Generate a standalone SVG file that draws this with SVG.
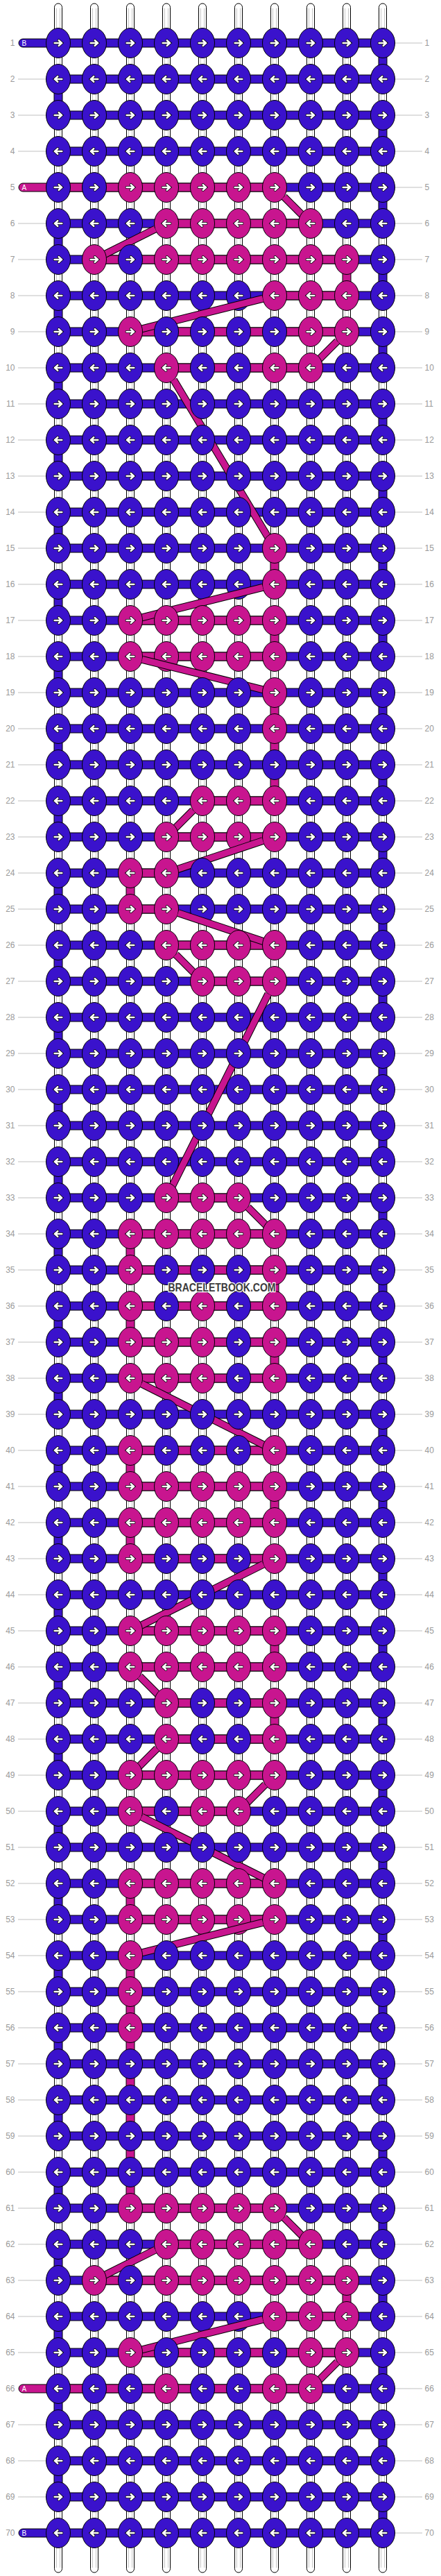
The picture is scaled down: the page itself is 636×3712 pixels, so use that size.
<svg xmlns="http://www.w3.org/2000/svg" xmlns:xlink="http://www.w3.org/1999/xlink" width="636" height="3712" viewBox="0 0 636 3712">
<style>
.str{fill:#fff;stroke:#000;stroke-width:1}
.sl{stroke:#c8c8c8;stroke-width:1;fill:none}
.gl{stroke:#c0c0c0;stroke-width:1;fill:none}
.lb{font-family:"Liberation Sans",Arial,sans-serif;font-size:12px;fill:#9a9a9a}
.le{text-anchor:end}
.bb{fill:#3a12cc;stroke:#000;stroke-width:1}
.pb{fill:#c8158f;stroke:#000;stroke-width:1}
.ao{fill:none;stroke:#000;stroke-width:4.2;stroke-linecap:round}
.ai{fill:none;stroke:#fff;stroke-width:2.6;stroke-linecap:round}
.do{fill:none;stroke:#000;stroke-width:11}
.dp{fill:none;stroke:#c8158f;stroke-width:9}
.tag{font-family:"Liberation Sans",Arial,sans-serif;font-size:10px;fill:#fff}
.wm{font-family:"Liberation Sans",Arial,sans-serif;font-weight:bold;font-size:17px;fill:#3c3c3c;stroke:#fff;stroke-width:2.5;paint-order:stroke;text-anchor:middle}
</style>
<defs>
<g id="ar"><path class="ao" d="M-5.3,0H5M0.8,-3.8L5,0L0.8,3.8"/><path class="ai" d="M-5.3,0H5M0.8,-3.8L5,0L0.8,3.8"/></g>
<g id="BR"><ellipse rx="17.5" ry="21.5" class="bb"/><use href="#ar"/></g>
<g id="BL"><ellipse rx="17.5" ry="21.5" class="bb"/><use href="#ar" transform="scale(-1,1)"/></g>
<g id="AR"><ellipse rx="17.5" ry="21.5" class="pb"/><use href="#ar"/></g>
<g id="AL"><ellipse rx="17.5" ry="21.5" class="pb"/><use href="#ar" transform="scale(-1,1)"/></g>
</defs>
<rect width="636" height="3712" fill="#fff"/>
<g id="strings">
<rect class="str" x="78.5" y="5" width="11" height="3702" rx="5.5"/>
<rect class="str" x="130.5" y="5" width="11" height="3702" rx="5.5"/>
<rect class="str" x="182.5" y="5" width="11" height="3702" rx="5.5"/>
<rect class="str" x="234.5" y="5" width="11" height="3702" rx="5.5"/>
<rect class="str" x="286.5" y="5" width="11" height="3702" rx="5.5"/>
<rect class="str" x="338.5" y="5" width="11" height="3702" rx="5.5"/>
<rect class="str" x="390.5" y="5" width="11" height="3702" rx="5.5"/>
<rect class="str" x="442.5" y="5" width="11" height="3702" rx="5.5"/>
<rect class="str" x="494.5" y="5" width="11" height="3702" rx="5.5"/>
<rect class="str" x="546.5" y="5" width="11" height="3702" rx="5.5"/>
<path class="sl" d="M81.5,12V3700M86.5,12V3700M133.5,12V3700M138.5,12V3700M185.5,12V3700M190.5,12V3700M237.5,12V3700M242.5,12V3700M289.5,12V3700M294.5,12V3700M341.5,12V3700M346.5,12V3700M393.5,12V3700M398.5,12V3700M445.5,12V3700M450.5,12V3700M497.5,12V3700M502.5,12V3700M549.5,12V3700M554.5,12V3700"/>
</g>
<g id="guides">
<path class="gl" d="M26,114H67M26,166H67M26,218H67M26,322H67M26,374H67M26,426H67M26,478H67M26,530H67M26,582H67M26,634H67M26,686H67M26,738H67M26,790H67M26,842H67M26,894H67M26,946H67M26,998H67M26,1050H67M26,1102H67M26,1154H67M26,1206H67M26,1258H67M26,1310H67M26,1362H67M26,1414H67M26,1466H67M26,1518H67M26,1570H67M26,1622H67M26,1674H67M26,1726H67M26,1778H67M26,1830H67M26,1882H67M26,1934H67M26,1986H67M26,2038H67M26,2090H67M26,2142H67M26,2194H67M26,2246H67M26,2298H67M26,2350H67M26,2402H67M26,2454H67M26,2506H67M26,2558H67M26,2610H67M26,2662H67M26,2714H67M26,2766H67M26,2818H67M26,2870H67M26,2922H67M26,2974H67M26,3026H67M26,3078H67M26,3130H67M26,3182H67M26,3234H67M26,3286H67M26,3338H67M26,3390H67M26,3494H67M26,3546H67M26,3598H67"/>
<path class="gl" d="M569,62H609M569,114H609M569,166H609M569,218H609M569,270H609M569,322H609M569,374H609M569,426H609M569,478H609M569,530H609M569,582H609M569,634H609M569,686H609M569,738H609M569,790H609M569,842H609M569,894H609M569,946H609M569,998H609M569,1050H609M569,1102H609M569,1154H609M569,1206H609M569,1258H609M569,1310H609M569,1362H609M569,1414H609M569,1466H609M569,1518H609M569,1570H609M569,1622H609M569,1674H609M569,1726H609M569,1778H609M569,1830H609M569,1882H609M569,1934H609M569,1986H609M569,2038H609M569,2090H609M569,2142H609M569,2194H609M569,2246H609M569,2298H609M569,2350H609M569,2402H609M569,2454H609M569,2506H609M569,2558H609M569,2610H609M569,2662H609M569,2714H609M569,2766H609M569,2818H609M569,2870H609M569,2922H609M569,2974H609M569,3026H609M569,3078H609M569,3130H609M569,3182H609M569,3234H609M569,3286H609M569,3338H609M569,3390H609M569,3442H609M569,3494H609M569,3546H609M569,3598H609M569,3650H609"/>
<g class="lb le">
<text x="21.5" y="66">1</text><text x="21.5" y="118">2</text><text x="21.5" y="170">3</text><text x="21.5" y="222">4</text><text x="21.5" y="274">5</text><text x="21.5" y="326">6</text><text x="21.5" y="378">7</text><text x="21.5" y="430">8</text><text x="21.5" y="482">9</text><text x="21.5" y="534">10</text>
<text x="21.5" y="586">11</text><text x="21.5" y="638">12</text><text x="21.5" y="690">13</text><text x="21.5" y="742">14</text><text x="21.5" y="794">15</text><text x="21.5" y="846">16</text><text x="21.5" y="898">17</text><text x="21.5" y="950">18</text><text x="21.5" y="1002">19</text><text x="21.5" y="1054">20</text>
<text x="21.5" y="1106">21</text><text x="21.5" y="1158">22</text><text x="21.5" y="1210">23</text><text x="21.5" y="1262">24</text><text x="21.5" y="1314">25</text><text x="21.5" y="1366">26</text><text x="21.5" y="1418">27</text><text x="21.5" y="1470">28</text><text x="21.5" y="1522">29</text><text x="21.5" y="1574">30</text>
<text x="21.5" y="1626">31</text><text x="21.5" y="1678">32</text><text x="21.5" y="1730">33</text><text x="21.5" y="1782">34</text><text x="21.5" y="1834">35</text><text x="21.5" y="1886">36</text><text x="21.5" y="1938">37</text><text x="21.5" y="1990">38</text><text x="21.5" y="2042">39</text><text x="21.5" y="2094">40</text>
<text x="21.5" y="2146">41</text><text x="21.5" y="2198">42</text><text x="21.5" y="2250">43</text><text x="21.5" y="2302">44</text><text x="21.5" y="2354">45</text><text x="21.5" y="2406">46</text><text x="21.5" y="2458">47</text><text x="21.5" y="2510">48</text><text x="21.5" y="2562">49</text><text x="21.5" y="2614">50</text>
<text x="21.5" y="2666">51</text><text x="21.5" y="2718">52</text><text x="21.5" y="2770">53</text><text x="21.5" y="2822">54</text><text x="21.5" y="2874">55</text><text x="21.5" y="2926">56</text><text x="21.5" y="2978">57</text><text x="21.5" y="3030">58</text><text x="21.5" y="3082">59</text><text x="21.5" y="3134">60</text>
<text x="21.5" y="3186">61</text><text x="21.5" y="3238">62</text><text x="21.5" y="3290">63</text><text x="21.5" y="3342">64</text><text x="21.5" y="3394">65</text><text x="21.5" y="3446">66</text><text x="21.5" y="3498">67</text><text x="21.5" y="3550">68</text><text x="21.5" y="3602">69</text><text x="21.5" y="3654">70</text>
</g>
<g class="lb">
<text x="612.5" y="66">1</text><text x="612.5" y="118">2</text><text x="612.5" y="170">3</text><text x="612.5" y="222">4</text><text x="612.5" y="274">5</text><text x="612.5" y="326">6</text><text x="612.5" y="378">7</text><text x="612.5" y="430">8</text><text x="612.5" y="482">9</text><text x="612.5" y="534">10</text>
<text x="612.5" y="586">11</text><text x="612.5" y="638">12</text><text x="612.5" y="690">13</text><text x="612.5" y="742">14</text><text x="612.5" y="794">15</text><text x="612.5" y="846">16</text><text x="612.5" y="898">17</text><text x="612.5" y="950">18</text><text x="612.5" y="1002">19</text><text x="612.5" y="1054">20</text>
<text x="612.5" y="1106">21</text><text x="612.5" y="1158">22</text><text x="612.5" y="1210">23</text><text x="612.5" y="1262">24</text><text x="612.5" y="1314">25</text><text x="612.5" y="1366">26</text><text x="612.5" y="1418">27</text><text x="612.5" y="1470">28</text><text x="612.5" y="1522">29</text><text x="612.5" y="1574">30</text>
<text x="612.5" y="1626">31</text><text x="612.5" y="1678">32</text><text x="612.5" y="1730">33</text><text x="612.5" y="1782">34</text><text x="612.5" y="1834">35</text><text x="612.5" y="1886">36</text><text x="612.5" y="1938">37</text><text x="612.5" y="1990">38</text><text x="612.5" y="2042">39</text><text x="612.5" y="2094">40</text>
<text x="612.5" y="2146">41</text><text x="612.5" y="2198">42</text><text x="612.5" y="2250">43</text><text x="612.5" y="2302">44</text><text x="612.5" y="2354">45</text><text x="612.5" y="2406">46</text><text x="612.5" y="2458">47</text><text x="612.5" y="2510">48</text><text x="612.5" y="2562">49</text><text x="612.5" y="2614">50</text>
<text x="612.5" y="2666">51</text><text x="612.5" y="2718">52</text><text x="612.5" y="2770">53</text><text x="612.5" y="2822">54</text><text x="612.5" y="2874">55</text><text x="612.5" y="2926">56</text><text x="612.5" y="2978">57</text><text x="612.5" y="3030">58</text><text x="612.5" y="3082">59</text><text x="612.5" y="3134">60</text>
<text x="612.5" y="3186">61</text><text x="612.5" y="3238">62</text><text x="612.5" y="3290">63</text><text x="612.5" y="3342">64</text><text x="612.5" y="3394">65</text><text x="612.5" y="3446">66</text><text x="612.5" y="3498">67</text><text x="612.5" y="3550">68</text><text x="612.5" y="3602">69</text><text x="612.5" y="3654">70</text>
</g>
</g>
<g id="connectors">
<path class="bb" d="M546,62h12v52h-12zM546,166h12v52h-12zM546,270h12v52h-12zM546,374h12v52h-12zM546,478h12v52h-12zM546,582h12v52h-12zM546,686h12v52h-12zM546,790h12v52h-12zM546,894h12v52h-12zM546,998h12v52h-12zM546,1102h12v52h-12zM546,1206h12v52h-12zM546,1310h12v52h-12zM546,1414h12v52h-12zM546,1518h12v52h-12zM546,1622h12v52h-12zM546,1726h12v52h-12zM546,1830h12v52h-12zM546,1934h12v52h-12zM546,2038h12v52h-12zM546,2142h12v52h-12zM546,2246h12v52h-12zM546,2350h12v52h-12zM546,2454h12v52h-12zM546,2558h12v52h-12zM546,2662h12v52h-12zM546,2766h12v52h-12zM546,2870h12v52h-12zM546,2974h12v52h-12zM546,3078h12v52h-12zM546,3182h12v52h-12zM546,3286h12v52h-12zM546,3390h12v52h-12zM546,3494h12v52h-12zM546,3598h12v52h-12z"/>
<path class="bb" d="M78,114h12v52h-12zM78,322h12v52h-12zM78,426h12v52h-12zM78,530h12v52h-12zM78,634h12v52h-12zM78,738h12v52h-12zM78,842h12v52h-12zM78,946h12v52h-12zM78,1050h12v52h-12zM78,1154h12v52h-12zM78,1258h12v52h-12zM78,1362h12v52h-12zM78,1466h12v52h-12zM78,1570h12v52h-12zM78,1674h12v52h-12zM78,1778h12v52h-12zM78,1882h12v52h-12zM78,1986h12v52h-12zM78,2090h12v52h-12zM78,2194h12v52h-12zM78,2298h12v52h-12zM78,2402h12v52h-12zM78,2506h12v52h-12zM78,2610h12v52h-12zM78,2714h12v52h-12zM78,2818h12v52h-12zM78,2922h12v52h-12zM78,3026h12v52h-12zM78,3130h12v52h-12zM78,3234h12v52h-12zM78,3338h12v52h-12zM78,3442h12v52h-12zM78,3546h12v52h-12z"/>
<path class="pb" d="M494,374h12v52h-12zM390,790h12v52h-12zM390,894h12v52h-12zM390,998h12v52h-12zM390,1050h12v52h-12zM390,1102h12v52h-12zM182,1258h12v52h-12zM182,1778h12v52h-12zM390,1830h12v52h-12zM182,1882h12v52h-12zM390,1934h12v52h-12zM182,2090h12v52h-12zM390,2142h12v52h-12zM182,2194h12v52h-12zM390,2350h12v52h-12zM390,2454h12v52h-12zM182,2714h12v52h-12zM182,2818h12v52h-12zM182,2870h12v52h-12zM182,2922h12v52h-12zM182,2974h12v52h-12zM182,3026h12v52h-12zM182,3078h12v52h-12zM182,3130h12v52h-12zM494,3286h12v52h-12z"/>
<path class="bb" d="M84,56h468v12h-468zM84,108h468v12h-468zM84,160h468v12h-468zM84,212h468v12h-468zM84,264h468v12h-468zM84,316h468v12h-468zM84,368h468v12h-468zM84,420h468v12h-468zM84,472h468v12h-468zM84,524h468v12h-468zM84,576h468v12h-468zM84,628h468v12h-468zM84,680h468v12h-468zM84,732h468v12h-468zM84,784h468v12h-468zM84,836h468v12h-468zM84,888h468v12h-468zM84,940h468v12h-468zM84,992h468v12h-468zM84,1044h468v12h-468zM84,1096h468v12h-468zM84,1148h468v12h-468zM84,1200h468v12h-468zM84,1252h468v12h-468zM84,1304h468v12h-468zM84,1356h468v12h-468zM84,1408h468v12h-468zM84,1460h468v12h-468zM84,1512h468v12h-468zM84,1564h468v12h-468zM84,1616h468v12h-468zM84,1668h468v12h-468zM84,1720h468v12h-468zM84,1772h468v12h-468zM84,1824h468v12h-468zM84,1876h468v12h-468zM84,1928h468v12h-468zM84,1980h468v12h-468zM84,2032h468v12h-468zM84,2084h468v12h-468zM84,2136h468v12h-468zM84,2188h468v12h-468zM84,2240h468v12h-468zM84,2292h468v12h-468zM84,2344h468v12h-468zM84,2396h468v12h-468zM84,2448h468v12h-468zM84,2500h468v12h-468zM84,2552h468v12h-468zM84,2604h468v12h-468zM84,2656h468v12h-468zM84,2708h468v12h-468zM84,2760h468v12h-468zM84,2812h468v12h-468zM84,2864h468v12h-468zM84,2916h468v12h-468zM84,2968h468v12h-468zM84,3020h468v12h-468zM84,3072h468v12h-468zM84,3124h468v12h-468zM84,3176h468v12h-468zM84,3228h468v12h-468zM84,3280h468v12h-468zM84,3332h468v12h-468zM84,3384h468v12h-468zM84,3436h468v12h-468zM84,3488h468v12h-468zM84,3540h468v12h-468zM84,3592h468v12h-468zM84,3644h468v12h-468z"/>
<path class="pb" d="M84,264h312v12h-312zM240,316h208v12h-208zM136,368h364v12h-364zM396,420h104v12h-104zM188,472h312v12h-312zM240,524h208v12h-208zM188,888h208v12h-208zM188,940h208v12h-208zM292,1148h104v12h-104zM240,1200h156v12h-156zM188,1252h52v12h-52zM188,1304h52v12h-52zM240,1356h156v12h-156zM292,1408h104v12h-104zM240,1720h104v12h-104zM188,1772h208v12h-208zM188,1824h208v12h-208zM188,1876h208v12h-208zM188,1928h208v12h-208zM188,1980h208v12h-208zM188,2084h208v12h-208zM188,2136h208v12h-208zM188,2188h208v12h-208zM188,2240h208v12h-208zM188,2344h208v12h-208zM188,2396h208v12h-208zM240,2448h156v12h-156zM240,2500h156v12h-156zM188,2552h208v12h-208zM188,2604h156v12h-156zM188,2708h208v12h-208zM188,2760h208v12h-208zM188,3176h208v12h-208zM240,3228h208v12h-208zM136,3280h364v12h-364zM396,3332h104v12h-104zM188,3384h312v12h-312zM84,3436h364v12h-364z"/>
<rect class="bb" x="27" y="56" width="64" height="12" rx="6"/>
<rect class="pb" x="27" y="264" width="64" height="12" rx="6"/>
<rect class="pb" x="27" y="3436" width="64" height="12" rx="6"/>
<rect class="bb" x="27" y="3644" width="64" height="12" rx="6"/>
<text class="tag" x="31.5" y="65.7">B</text>
<text class="tag" x="31.5" y="273.7">A</text>
<text class="tag" x="31.5" y="3445.7">A</text>
<text class="tag" x="31.5" y="3653.7">B</text>
</g>
<g id="r1" transform="translate(0,62)"><use href="#BR" x="84"/><use href="#BR" x="136"/><use href="#BR" x="188"/><use href="#BR" x="240"/><use href="#BR" x="292"/><use href="#BR" x="344"/><use href="#BR" x="396"/><use href="#BR" x="448"/><use href="#BR" x="500"/><use href="#BR" x="552"/></g>
<g id="r2" transform="translate(0,114)"><use href="#BL" x="84"/><use href="#BL" x="136"/><use href="#BL" x="188"/><use href="#BL" x="240"/><use href="#BL" x="292"/><use href="#BL" x="344"/><use href="#BL" x="396"/><use href="#BL" x="448"/><use href="#BL" x="500"/><use href="#BL" x="552"/></g>
<g id="r3" transform="translate(0,166)"><use href="#BR" x="84"/><use href="#BR" x="136"/><use href="#BR" x="188"/><use href="#BR" x="240"/><use href="#BR" x="292"/><use href="#BR" x="344"/><use href="#BR" x="396"/><use href="#BR" x="448"/><use href="#BR" x="500"/><use href="#BR" x="552"/></g>
<g id="r4" transform="translate(0,218)"><use href="#BL" x="84"/><use href="#BL" x="136"/><use href="#BL" x="188"/><use href="#BL" x="240"/><use href="#BL" x="292"/><use href="#BL" x="344"/><use href="#BL" x="396"/><use href="#BL" x="448"/><use href="#BL" x="500"/><use href="#BL" x="552"/></g>
<g id="r5" transform="translate(0,270)"><use href="#BR" x="84"/><use href="#BR" x="136"/><use href="#AR" x="188"/><use href="#AR" x="240"/><use href="#AR" x="292"/><use href="#AR" x="344"/><use href="#AR" x="396"/><use href="#BR" x="448"/><use href="#BR" x="500"/><use href="#BR" x="552"/></g>
<g class="diag"><path class="do" d="M409.6,283.6L448,322"/><path class="dp" d="M409.6,283.6L448,322"/></g>
<g id="r6" transform="translate(0,322)"><use href="#BL" x="84"/><use href="#BL" x="136"/><use href="#BL" x="188"/><use href="#AL" x="240"/><use href="#AL" x="292"/><use href="#AL" x="344"/><use href="#AL" x="396"/><use href="#AL" x="448"/><use href="#BL" x="500"/><use href="#BL" x="552"/></g>
<g class="diag"><path class="do" d="M223.8,330.1L136,374"/><path class="dp" d="M223.8,330.1L136,374"/></g>
<g id="r7" transform="translate(0,374)"><use href="#BR" x="84"/><use href="#AR" x="136"/><use href="#BR" x="188"/><use href="#AR" x="240"/><use href="#AR" x="292"/><use href="#AR" x="344"/><use href="#AR" x="396"/><use href="#AR" x="448"/><use href="#AR" x="500"/><use href="#BR" x="552"/></g>
<g id="r8" transform="translate(0,426)"><use href="#BL" x="84"/><use href="#BL" x="136"/><use href="#BL" x="188"/><use href="#BL" x="240"/><use href="#BL" x="292"/><use href="#BL" x="344"/><use href="#AL" x="396"/><use href="#AL" x="448"/><use href="#AL" x="500"/><use href="#BL" x="552"/></g>
<g class="diag"><path class="do" d="M378.9,430.3L188,478"/><path class="dp" d="M378.9,430.3L188,478"/></g>
<g id="r9" transform="translate(0,478)"><use href="#BR" x="84"/><use href="#BR" x="136"/><use href="#AR" x="188"/><use href="#BR" x="240"/><use href="#BR" x="292"/><use href="#BR" x="344"/><use href="#BR" x="396"/><use href="#AR" x="448"/><use href="#AR" x="500"/><use href="#BR" x="552"/></g>
<g class="diag"><path class="do" d="M486.4,491.6L448,530"/><path class="dp" d="M486.4,491.6L448,530"/></g>
<g id="r10" transform="translate(0,530)"><use href="#BL" x="84"/><use href="#BL" x="136"/><use href="#BL" x="188"/><use href="#AL" x="240"/><use href="#BL" x="292"/><use href="#BL" x="344"/><use href="#AL" x="396"/><use href="#AL" x="448"/><use href="#BL" x="500"/><use href="#BL" x="552"/></g>
<g class="diag"><path class="do" d="M250.4,547.3L396,790"/><path class="dp" d="M250.4,547.3L396,790"/></g>
<g id="r11" transform="translate(0,582)"><use href="#BR" x="84"/><use href="#BR" x="136"/><use href="#BR" x="188"/><use href="#BR" x="240"/><use href="#BR" x="292"/><use href="#BR" x="344"/><use href="#BR" x="396"/><use href="#BR" x="448"/><use href="#BR" x="500"/><use href="#BR" x="552"/></g>
<g id="r12" transform="translate(0,634)"><use href="#BL" x="84"/><use href="#BL" x="136"/><use href="#BL" x="188"/><use href="#BL" x="240"/><use href="#BL" x="292"/><use href="#BL" x="344"/><use href="#BL" x="396"/><use href="#BL" x="448"/><use href="#BL" x="500"/><use href="#BL" x="552"/></g>
<g id="r13" transform="translate(0,686)"><use href="#BR" x="84"/><use href="#BR" x="136"/><use href="#BR" x="188"/><use href="#BR" x="240"/><use href="#BR" x="292"/><use href="#BR" x="344"/><use href="#BR" x="396"/><use href="#BR" x="448"/><use href="#BR" x="500"/><use href="#BR" x="552"/></g>
<g id="r14" transform="translate(0,738)"><use href="#BL" x="84"/><use href="#BL" x="136"/><use href="#BL" x="188"/><use href="#BL" x="240"/><use href="#BL" x="292"/><use href="#BL" x="344"/><use href="#BL" x="396"/><use href="#BL" x="448"/><use href="#BL" x="500"/><use href="#BL" x="552"/></g>
<g id="r15" transform="translate(0,790)"><use href="#BR" x="84"/><use href="#BR" x="136"/><use href="#BR" x="188"/><use href="#BR" x="240"/><use href="#BR" x="292"/><use href="#BR" x="344"/><use href="#AR" x="396"/><use href="#BR" x="448"/><use href="#BR" x="500"/><use href="#BR" x="552"/></g>
<g id="r16" transform="translate(0,842)"><use href="#BL" x="84"/><use href="#BL" x="136"/><use href="#BL" x="188"/><use href="#BL" x="240"/><use href="#BL" x="292"/><use href="#BL" x="344"/><use href="#AL" x="396"/><use href="#BL" x="448"/><use href="#BL" x="500"/><use href="#BL" x="552"/></g>
<g class="diag"><path class="do" d="M378.9,846.3L188,894"/><path class="dp" d="M378.9,846.3L188,894"/></g>
<g id="r17" transform="translate(0,894)"><use href="#BR" x="84"/><use href="#BR" x="136"/><use href="#AR" x="188"/><use href="#AR" x="240"/><use href="#AR" x="292"/><use href="#AR" x="344"/><use href="#AR" x="396"/><use href="#BR" x="448"/><use href="#BR" x="500"/><use href="#BR" x="552"/></g>
<g id="r18" transform="translate(0,946)"><use href="#BL" x="84"/><use href="#BL" x="136"/><use href="#AL" x="188"/><use href="#AL" x="240"/><use href="#AL" x="292"/><use href="#AL" x="344"/><use href="#AL" x="396"/><use href="#BL" x="448"/><use href="#BL" x="500"/><use href="#BL" x="552"/></g>
<g class="diag"><path class="do" d="M205.1,950.3L396,998"/><path class="dp" d="M205.1,950.3L396,998"/></g>
<g id="r19" transform="translate(0,998)"><use href="#BR" x="84"/><use href="#BR" x="136"/><use href="#BR" x="188"/><use href="#BR" x="240"/><use href="#BR" x="292"/><use href="#BR" x="344"/><use href="#AR" x="396"/><use href="#BR" x="448"/><use href="#BR" x="500"/><use href="#BR" x="552"/></g>
<g id="r20" transform="translate(0,1050)"><use href="#BL" x="84"/><use href="#BL" x="136"/><use href="#BL" x="188"/><use href="#BL" x="240"/><use href="#BL" x="292"/><use href="#BL" x="344"/><use href="#AL" x="396"/><use href="#BL" x="448"/><use href="#BL" x="500"/><use href="#BL" x="552"/></g>
<g id="r21" transform="translate(0,1102)"><use href="#BR" x="84"/><use href="#BR" x="136"/><use href="#BR" x="188"/><use href="#BR" x="240"/><use href="#BR" x="292"/><use href="#BR" x="344"/><use href="#BR" x="396"/><use href="#BR" x="448"/><use href="#BR" x="500"/><use href="#BR" x="552"/></g>
<g id="r22" transform="translate(0,1154)"><use href="#BL" x="84"/><use href="#BL" x="136"/><use href="#BL" x="188"/><use href="#BL" x="240"/><use href="#AL" x="292"/><use href="#AL" x="344"/><use href="#AL" x="396"/><use href="#BL" x="448"/><use href="#BL" x="500"/><use href="#BL" x="552"/></g>
<g class="diag"><path class="do" d="M278.4,1167.6L240,1206"/><path class="dp" d="M278.4,1167.6L240,1206"/></g>
<g id="r23" transform="translate(0,1206)"><use href="#BR" x="84"/><use href="#BR" x="136"/><use href="#BR" x="188"/><use href="#AR" x="240"/><use href="#AR" x="292"/><use href="#AR" x="344"/><use href="#AR" x="396"/><use href="#BR" x="448"/><use href="#BR" x="500"/><use href="#BR" x="552"/></g>
<g class="diag"><path class="do" d="M379.1,1211.6L240,1258"/><path class="dp" d="M379.1,1211.6L240,1258"/></g>
<g id="r24" transform="translate(0,1258)"><use href="#BL" x="84"/><use href="#BL" x="136"/><use href="#AL" x="188"/><use href="#AL" x="240"/><use href="#BL" x="292"/><use href="#BL" x="344"/><use href="#BL" x="396"/><use href="#BL" x="448"/><use href="#BL" x="500"/><use href="#BL" x="552"/></g>
<g id="r25" transform="translate(0,1310)"><use href="#BR" x="84"/><use href="#BR" x="136"/><use href="#AR" x="188"/><use href="#AR" x="240"/><use href="#BR" x="292"/><use href="#BR" x="344"/><use href="#BR" x="396"/><use href="#BR" x="448"/><use href="#BR" x="500"/><use href="#BR" x="552"/></g>
<g class="diag"><path class="do" d="M256.9,1315.6L396,1362"/><path class="dp" d="M256.9,1315.6L396,1362"/></g>
<g id="r26" transform="translate(0,1362)"><use href="#BL" x="84"/><use href="#BL" x="136"/><use href="#BL" x="188"/><use href="#AL" x="240"/><use href="#AL" x="292"/><use href="#AL" x="344"/><use href="#AL" x="396"/><use href="#BL" x="448"/><use href="#BL" x="500"/><use href="#BL" x="552"/></g>
<g class="diag"><path class="do" d="M253.6,1375.6L292,1414"/><path class="dp" d="M253.6,1375.6L292,1414"/></g>
<g id="r27" transform="translate(0,1414)"><use href="#BR" x="84"/><use href="#BR" x="136"/><use href="#BR" x="188"/><use href="#BR" x="240"/><use href="#AR" x="292"/><use href="#AR" x="344"/><use href="#AR" x="396"/><use href="#BR" x="448"/><use href="#BR" x="500"/><use href="#BR" x="552"/></g>
<g class="diag"><path class="do" d="M386.8,1432.3L240,1726"/><path class="dp" d="M386.8,1432.3L240,1726"/></g>
<g id="r28" transform="translate(0,1466)"><use href="#BL" x="84"/><use href="#BL" x="136"/><use href="#BL" x="188"/><use href="#BL" x="240"/><use href="#BL" x="292"/><use href="#BL" x="344"/><use href="#BL" x="396"/><use href="#BL" x="448"/><use href="#BL" x="500"/><use href="#BL" x="552"/></g>
<g id="r29" transform="translate(0,1518)"><use href="#BR" x="84"/><use href="#BR" x="136"/><use href="#BR" x="188"/><use href="#BR" x="240"/><use href="#BR" x="292"/><use href="#BR" x="344"/><use href="#BR" x="396"/><use href="#BR" x="448"/><use href="#BR" x="500"/><use href="#BR" x="552"/></g>
<g id="r30" transform="translate(0,1570)"><use href="#BL" x="84"/><use href="#BL" x="136"/><use href="#BL" x="188"/><use href="#BL" x="240"/><use href="#BL" x="292"/><use href="#BL" x="344"/><use href="#BL" x="396"/><use href="#BL" x="448"/><use href="#BL" x="500"/><use href="#BL" x="552"/></g>
<g id="r31" transform="translate(0,1622)"><use href="#BR" x="84"/><use href="#BR" x="136"/><use href="#BR" x="188"/><use href="#BR" x="240"/><use href="#BR" x="292"/><use href="#BR" x="344"/><use href="#BR" x="396"/><use href="#BR" x="448"/><use href="#BR" x="500"/><use href="#BR" x="552"/></g>
<g id="r32" transform="translate(0,1674)"><use href="#BL" x="84"/><use href="#BL" x="136"/><use href="#BL" x="188"/><use href="#BL" x="240"/><use href="#BL" x="292"/><use href="#BL" x="344"/><use href="#BL" x="396"/><use href="#BL" x="448"/><use href="#BL" x="500"/><use href="#BL" x="552"/></g>
<g id="r33" transform="translate(0,1726)"><use href="#BR" x="84"/><use href="#BR" x="136"/><use href="#BR" x="188"/><use href="#AR" x="240"/><use href="#AR" x="292"/><use href="#AR" x="344"/><use href="#BR" x="396"/><use href="#BR" x="448"/><use href="#BR" x="500"/><use href="#BR" x="552"/></g>
<g class="diag"><path class="do" d="M357.6,1739.6L396,1778"/><path class="dp" d="M357.6,1739.6L396,1778"/></g>
<g id="r34" transform="translate(0,1778)"><use href="#BL" x="84"/><use href="#BL" x="136"/><use href="#AL" x="188"/><use href="#AL" x="240"/><use href="#AL" x="292"/><use href="#AL" x="344"/><use href="#AL" x="396"/><use href="#BL" x="448"/><use href="#BL" x="500"/><use href="#BL" x="552"/></g>
<g id="r35" transform="translate(0,1830)"><use href="#BR" x="84"/><use href="#BR" x="136"/><use href="#AR" x="188"/><use href="#BR" x="240"/><use href="#BR" x="292"/><use href="#BR" x="344"/><use href="#AR" x="396"/><use href="#BR" x="448"/><use href="#BR" x="500"/><use href="#BR" x="552"/></g>
<g id="r36" transform="translate(0,1882)"><use href="#BL" x="84"/><use href="#BL" x="136"/><use href="#AL" x="188"/><use href="#BL" x="240"/><use href="#AL" x="292"/><use href="#BL" x="344"/><use href="#AL" x="396"/><use href="#BL" x="448"/><use href="#BL" x="500"/><use href="#BL" x="552"/></g>
<g id="r37" transform="translate(0,1934)"><use href="#BR" x="84"/><use href="#BR" x="136"/><use href="#AR" x="188"/><use href="#AR" x="240"/><use href="#AR" x="292"/><use href="#BR" x="344"/><use href="#AR" x="396"/><use href="#BR" x="448"/><use href="#BR" x="500"/><use href="#BR" x="552"/></g>
<g id="r38" transform="translate(0,1986)"><use href="#BL" x="84"/><use href="#BL" x="136"/><use href="#AL" x="188"/><use href="#AL" x="240"/><use href="#AL" x="292"/><use href="#BL" x="344"/><use href="#AL" x="396"/><use href="#BL" x="448"/><use href="#BL" x="500"/><use href="#BL" x="552"/></g>
<g class="diag"><path class="do" d="M204.2,1994.1L396,2090"/><path class="dp" d="M204.2,1994.1L396,2090"/></g>
<g id="r39" transform="translate(0,2038)"><use href="#BR" x="84"/><use href="#BR" x="136"/><use href="#BR" x="188"/><use href="#BR" x="240"/><use href="#BR" x="292"/><use href="#BR" x="344"/><use href="#BR" x="396"/><use href="#BR" x="448"/><use href="#BR" x="500"/><use href="#BR" x="552"/></g>
<g id="r40" transform="translate(0,2090)"><use href="#BL" x="84"/><use href="#BL" x="136"/><use href="#AL" x="188"/><use href="#BL" x="240"/><use href="#BL" x="292"/><use href="#BL" x="344"/><use href="#AL" x="396"/><use href="#BL" x="448"/><use href="#BL" x="500"/><use href="#BL" x="552"/></g>
<g id="r41" transform="translate(0,2142)"><use href="#BR" x="84"/><use href="#BR" x="136"/><use href="#AR" x="188"/><use href="#AR" x="240"/><use href="#AR" x="292"/><use href="#AR" x="344"/><use href="#AR" x="396"/><use href="#BR" x="448"/><use href="#BR" x="500"/><use href="#BR" x="552"/></g>
<g id="r42" transform="translate(0,2194)"><use href="#BL" x="84"/><use href="#BL" x="136"/><use href="#AL" x="188"/><use href="#AL" x="240"/><use href="#AL" x="292"/><use href="#AL" x="344"/><use href="#AL" x="396"/><use href="#BL" x="448"/><use href="#BL" x="500"/><use href="#BL" x="552"/></g>
<g id="r43" transform="translate(0,2246)"><use href="#BR" x="84"/><use href="#BR" x="136"/><use href="#AR" x="188"/><use href="#BR" x="240"/><use href="#BR" x="292"/><use href="#BR" x="344"/><use href="#AR" x="396"/><use href="#BR" x="448"/><use href="#BR" x="500"/><use href="#BR" x="552"/></g>
<g class="diag"><path class="do" d="M379.8,2254.1L188,2350"/><path class="dp" d="M379.8,2254.1L188,2350"/></g>
<g id="r44" transform="translate(0,2298)"><use href="#BL" x="84"/><use href="#BL" x="136"/><use href="#BL" x="188"/><use href="#BL" x="240"/><use href="#BL" x="292"/><use href="#BL" x="344"/><use href="#BL" x="396"/><use href="#BL" x="448"/><use href="#BL" x="500"/><use href="#BL" x="552"/></g>
<g id="r45" transform="translate(0,2350)"><use href="#BR" x="84"/><use href="#BR" x="136"/><use href="#AR" x="188"/><use href="#AR" x="240"/><use href="#AR" x="292"/><use href="#AR" x="344"/><use href="#AR" x="396"/><use href="#BR" x="448"/><use href="#BR" x="500"/><use href="#BR" x="552"/></g>
<g id="r46" transform="translate(0,2402)"><use href="#BL" x="84"/><use href="#BL" x="136"/><use href="#AL" x="188"/><use href="#AL" x="240"/><use href="#AL" x="292"/><use href="#AL" x="344"/><use href="#AL" x="396"/><use href="#BL" x="448"/><use href="#BL" x="500"/><use href="#BL" x="552"/></g>
<g class="diag"><path class="do" d="M201.6,2415.6L240,2454"/><path class="dp" d="M201.6,2415.6L240,2454"/></g>
<g id="r47" transform="translate(0,2454)"><use href="#BR" x="84"/><use href="#BR" x="136"/><use href="#BR" x="188"/><use href="#AR" x="240"/><use href="#BR" x="292"/><use href="#BR" x="344"/><use href="#AR" x="396"/><use href="#BR" x="448"/><use href="#BR" x="500"/><use href="#BR" x="552"/></g>
<g id="r48" transform="translate(0,2506)"><use href="#BL" x="84"/><use href="#BL" x="136"/><use href="#BL" x="188"/><use href="#AL" x="240"/><use href="#BL" x="292"/><use href="#BL" x="344"/><use href="#AL" x="396"/><use href="#BL" x="448"/><use href="#BL" x="500"/><use href="#BL" x="552"/></g>
<g class="diag"><path class="do" d="M226.4,2519.6L188,2558"/><path class="dp" d="M226.4,2519.6L188,2558"/></g>
<g id="r49" transform="translate(0,2558)"><use href="#BR" x="84"/><use href="#BR" x="136"/><use href="#AR" x="188"/><use href="#AR" x="240"/><use href="#AR" x="292"/><use href="#AR" x="344"/><use href="#AR" x="396"/><use href="#BR" x="448"/><use href="#BR" x="500"/><use href="#BR" x="552"/></g>
<g class="diag"><path class="do" d="M382.4,2571.6L344,2610"/><path class="dp" d="M382.4,2571.6L344,2610"/></g>
<g id="r50" transform="translate(0,2610)"><use href="#BL" x="84"/><use href="#BL" x="136"/><use href="#AL" x="188"/><use href="#BL" x="240"/><use href="#AL" x="292"/><use href="#AL" x="344"/><use href="#BL" x="396"/><use href="#BL" x="448"/><use href="#BL" x="500"/><use href="#BL" x="552"/></g>
<g class="diag"><path class="do" d="M204.2,2618.1L396,2714"/><path class="dp" d="M204.2,2618.1L396,2714"/></g>
<g id="r51" transform="translate(0,2662)"><use href="#BR" x="84"/><use href="#BR" x="136"/><use href="#BR" x="188"/><use href="#BR" x="240"/><use href="#BR" x="292"/><use href="#BR" x="344"/><use href="#BR" x="396"/><use href="#BR" x="448"/><use href="#BR" x="500"/><use href="#BR" x="552"/></g>
<g id="r52" transform="translate(0,2714)"><use href="#BL" x="84"/><use href="#BL" x="136"/><use href="#AL" x="188"/><use href="#AL" x="240"/><use href="#AL" x="292"/><use href="#AL" x="344"/><use href="#AL" x="396"/><use href="#BL" x="448"/><use href="#BL" x="500"/><use href="#BL" x="552"/></g>
<g id="r53" transform="translate(0,2766)"><use href="#BR" x="84"/><use href="#BR" x="136"/><use href="#AR" x="188"/><use href="#AR" x="240"/><use href="#AR" x="292"/><use href="#AR" x="344"/><use href="#AR" x="396"/><use href="#BR" x="448"/><use href="#BR" x="500"/><use href="#BR" x="552"/></g>
<g class="diag"><path class="do" d="M378.9,2770.3L188,2818"/><path class="dp" d="M378.9,2770.3L188,2818"/></g>
<g id="r54" transform="translate(0,2818)"><use href="#BL" x="84"/><use href="#BL" x="136"/><use href="#AL" x="188"/><use href="#BL" x="240"/><use href="#BL" x="292"/><use href="#BL" x="344"/><use href="#BL" x="396"/><use href="#BL" x="448"/><use href="#BL" x="500"/><use href="#BL" x="552"/></g>
<g id="r55" transform="translate(0,2870)"><use href="#BR" x="84"/><use href="#BR" x="136"/><use href="#AR" x="188"/><use href="#BR" x="240"/><use href="#BR" x="292"/><use href="#BR" x="344"/><use href="#BR" x="396"/><use href="#BR" x="448"/><use href="#BR" x="500"/><use href="#BR" x="552"/></g>
<g id="r56" transform="translate(0,2922)"><use href="#BL" x="84"/><use href="#BL" x="136"/><use href="#AL" x="188"/><use href="#BL" x="240"/><use href="#BL" x="292"/><use href="#BL" x="344"/><use href="#BL" x="396"/><use href="#BL" x="448"/><use href="#BL" x="500"/><use href="#BL" x="552"/></g>
<g id="r57" transform="translate(0,2974)"><use href="#BR" x="84"/><use href="#BR" x="136"/><use href="#BR" x="188"/><use href="#BR" x="240"/><use href="#BR" x="292"/><use href="#BR" x="344"/><use href="#BR" x="396"/><use href="#BR" x="448"/><use href="#BR" x="500"/><use href="#BR" x="552"/></g>
<g id="r58" transform="translate(0,3026)"><use href="#BL" x="84"/><use href="#BL" x="136"/><use href="#BL" x="188"/><use href="#BL" x="240"/><use href="#BL" x="292"/><use href="#BL" x="344"/><use href="#BL" x="396"/><use href="#BL" x="448"/><use href="#BL" x="500"/><use href="#BL" x="552"/></g>
<g id="r59" transform="translate(0,3078)"><use href="#BR" x="84"/><use href="#BR" x="136"/><use href="#BR" x="188"/><use href="#BR" x="240"/><use href="#BR" x="292"/><use href="#BR" x="344"/><use href="#BR" x="396"/><use href="#BR" x="448"/><use href="#BR" x="500"/><use href="#BR" x="552"/></g>
<g id="r60" transform="translate(0,3130)"><use href="#BL" x="84"/><use href="#BL" x="136"/><use href="#BL" x="188"/><use href="#BL" x="240"/><use href="#BL" x="292"/><use href="#BL" x="344"/><use href="#BL" x="396"/><use href="#BL" x="448"/><use href="#BL" x="500"/><use href="#BL" x="552"/></g>
<g id="r61" transform="translate(0,3182)"><use href="#BR" x="84"/><use href="#BR" x="136"/><use href="#AR" x="188"/><use href="#AR" x="240"/><use href="#AR" x="292"/><use href="#AR" x="344"/><use href="#AR" x="396"/><use href="#BR" x="448"/><use href="#BR" x="500"/><use href="#BR" x="552"/></g>
<g class="diag"><path class="do" d="M409.6,3195.6L448,3234"/><path class="dp" d="M409.6,3195.6L448,3234"/></g>
<g id="r62" transform="translate(0,3234)"><use href="#BL" x="84"/><use href="#BL" x="136"/><use href="#BL" x="188"/><use href="#AL" x="240"/><use href="#AL" x="292"/><use href="#AL" x="344"/><use href="#AL" x="396"/><use href="#AL" x="448"/><use href="#BL" x="500"/><use href="#BL" x="552"/></g>
<g class="diag"><path class="do" d="M223.8,3242.1L136,3286"/><path class="dp" d="M223.8,3242.1L136,3286"/></g>
<g id="r63" transform="translate(0,3286)"><use href="#BR" x="84"/><use href="#AR" x="136"/><use href="#BR" x="188"/><use href="#AR" x="240"/><use href="#AR" x="292"/><use href="#AR" x="344"/><use href="#AR" x="396"/><use href="#AR" x="448"/><use href="#AR" x="500"/><use href="#BR" x="552"/></g>
<g id="r64" transform="translate(0,3338)"><use href="#BL" x="84"/><use href="#BL" x="136"/><use href="#BL" x="188"/><use href="#BL" x="240"/><use href="#BL" x="292"/><use href="#BL" x="344"/><use href="#AL" x="396"/><use href="#AL" x="448"/><use href="#AL" x="500"/><use href="#BL" x="552"/></g>
<g class="diag"><path class="do" d="M378.9,3342.3L188,3390"/><path class="dp" d="M378.9,3342.3L188,3390"/></g>
<g id="r65" transform="translate(0,3390)"><use href="#BR" x="84"/><use href="#BR" x="136"/><use href="#AR" x="188"/><use href="#BR" x="240"/><use href="#BR" x="292"/><use href="#BR" x="344"/><use href="#BR" x="396"/><use href="#AR" x="448"/><use href="#AR" x="500"/><use href="#BR" x="552"/></g>
<g class="diag"><path class="do" d="M486.4,3403.6L448,3442"/><path class="dp" d="M486.4,3403.6L448,3442"/></g>
<g id="r66" transform="translate(0,3442)"><use href="#BL" x="84"/><use href="#BL" x="136"/><use href="#BL" x="188"/><use href="#AL" x="240"/><use href="#BL" x="292"/><use href="#BL" x="344"/><use href="#AL" x="396"/><use href="#AL" x="448"/><use href="#BL" x="500"/><use href="#BL" x="552"/></g>
<g id="r67" transform="translate(0,3494)"><use href="#BR" x="84"/><use href="#BR" x="136"/><use href="#BR" x="188"/><use href="#BR" x="240"/><use href="#BR" x="292"/><use href="#BR" x="344"/><use href="#BR" x="396"/><use href="#BR" x="448"/><use href="#BR" x="500"/><use href="#BR" x="552"/></g>
<g id="r68" transform="translate(0,3546)"><use href="#BL" x="84"/><use href="#BL" x="136"/><use href="#BL" x="188"/><use href="#BL" x="240"/><use href="#BL" x="292"/><use href="#BL" x="344"/><use href="#BL" x="396"/><use href="#BL" x="448"/><use href="#BL" x="500"/><use href="#BL" x="552"/></g>
<g id="r69" transform="translate(0,3598)"><use href="#BR" x="84"/><use href="#BR" x="136"/><use href="#BR" x="188"/><use href="#BR" x="240"/><use href="#BR" x="292"/><use href="#BR" x="344"/><use href="#BR" x="396"/><use href="#BR" x="448"/><use href="#BR" x="500"/><use href="#BR" x="552"/></g>
<g id="r70" transform="translate(0,3650)"><use href="#BL" x="84"/><use href="#BL" x="136"/><use href="#BL" x="188"/><use href="#BL" x="240"/><use href="#BL" x="292"/><use href="#BL" x="344"/><use href="#BL" x="396"/><use href="#BL" x="448"/><use href="#BL" x="500"/><use href="#BL" x="552"/></g>
<text id="watermark" class="wm" x="320" y="1861" textLength="155" lengthAdjust="spacingAndGlyphs">BRACELETBOOK.COM</text>
</svg>
